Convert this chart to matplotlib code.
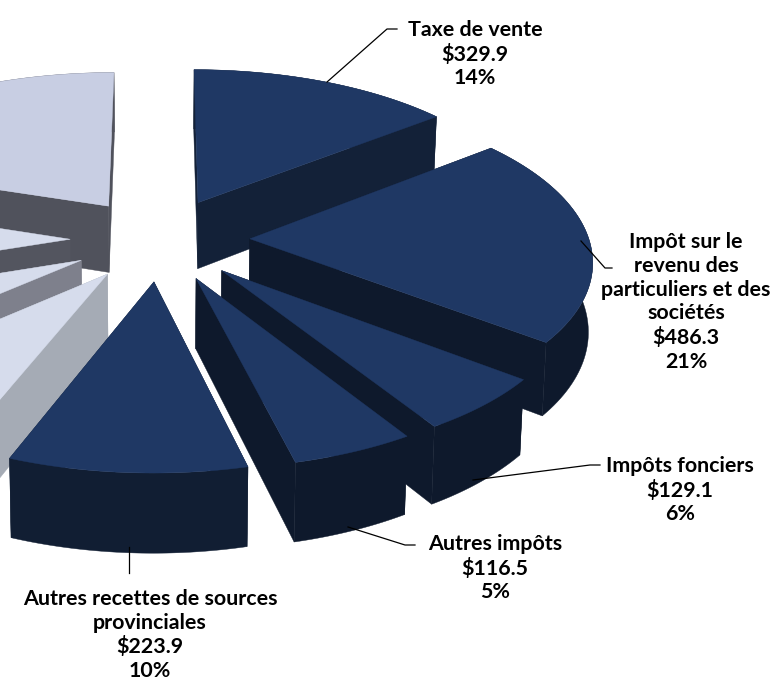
import numpy as np
import matplotlib
matplotlib.use("Agg")
import matplotlib.pyplot as plt

# values in $M, clockwise from 12 o'clock; the last four are cut off by the crop
labels = ["Taxe de vente\n$329.9\n14%",
          "Impôt sur le\nrevenu des\nparticuliers et des\nsociétés\n$486.3\n21%",
          "Impôts fonciers\n$129.1\n6%",
          "Autres impôts\n$116.5\n5%",
          "Autres recettes de sources\nprovinciales\n$223.9\n10%"]
values = [329.9, 486.3, 129.1, 116.5, 223.9, 172, 147, 236, 459]
top_colors = ["#1f3864"] * 5 + ["#d6dcec", "#d6dcec", "#d6dcec", "#c8cee3"]
side_colors = ["#132138", "#0e192c", "#0e192c", "#0e192c", "#111e33",
               "#a5abb5", "#7e808c", "#53555f", "#50525c"]
draw_order = [8, 0, 7, 1, 6, 2, 5, 3, 4]

label_pos = [(475, 54), (686, 302), (680, 490), (495, 568), (150, 635)]
leaders = [[(327, 82), (387, 29), (397, 29)],
           [(581, 241), (605, 268), (612, 268)],
           [(473, 480), (590, 465), (600, 465)],
           [(348, 527), (405, 545), (415, 545)],
           [(129, 547), (129, 573)]]

# projection of the pie plane, in pixels
cx, cy = 160, 239
rx, ry = 339, 157
persp = 0.12
depth = 68
explode = 0.265


def project(u, v, z=0):
    w = 1 / (1 + persp * v)
    x = cx + rx * u * w * (1 - 0.01 * z)
    y = cy - ry * v * w + depth * z * w
    return x, y


fractions = np.array(values) / sum(values)
edges = np.concatenate([[0], np.cumsum(fractions)]) * 2 * np.pi

fig = plt.figure(figsize=(7.82, 6.9), dpi=100)
ax = fig.add_axes([0, 0, 1, 1])
ax.set_xlim(0, 782)
ax.set_ylim(690, 0)
ax.axis("off")

for i in draw_order:
    a0, a1 = edges[i], edges[i + 1]
    mid = (a0 + a1) / 2
    u0 = explode * np.sin(mid)
    v0 = explode * np.cos(mid)
    t = np.linspace(a0, a1, 60)
    us = u0 + np.sin(t)
    vs = v0 + np.cos(t)

    ax_top = project(u0, v0)
    ax_bot = project(u0, v0, 1)
    xt, yt = project(us, vs)
    xb, yb = project(us, vs, 1)

    # two cut faces, then the rim, then the top
    ax.fill([ax_top[0], xt[0], xb[0], ax_bot[0]], [ax_top[1], yt[0], yb[0], ax_bot[1]],
            color=side_colors[i], lw=0.3, zorder=1 + draw_order.index(i) * 3)
    ax.fill([ax_top[0], xt[-1], xb[-1], ax_bot[0]], [ax_top[1], yt[-1], yb[-1], ax_bot[1]],
            color=side_colors[i], lw=0.3, zorder=1 + draw_order.index(i) * 3)
    ax.fill(np.r_[xt, xb[::-1]], np.r_[yt, yb[::-1]],
            color=side_colors[i], lw=0.3, zorder=2 + draw_order.index(i) * 3)
    ax.fill(np.r_[ax_top[0], xt], np.r_[ax_top[1], yt],
            color=top_colors[i], lw=0.3, zorder=3 + draw_order.index(i) * 3)

for line in leaders:
    xs, ys = zip(*line)
    ax.plot(xs, ys, color="black", lw=0.9, zorder=40)

for text, (x, y) in zip(labels, label_pos):
    ax.text(x, y, text, ha="center", va="center", family=["Lato", "DejaVu Sans"],
            fontweight="bold", fontsize=15.4, linespacing=1.23, color="black", zorder=50)

fig.savefig("out.png", dpi=100)
